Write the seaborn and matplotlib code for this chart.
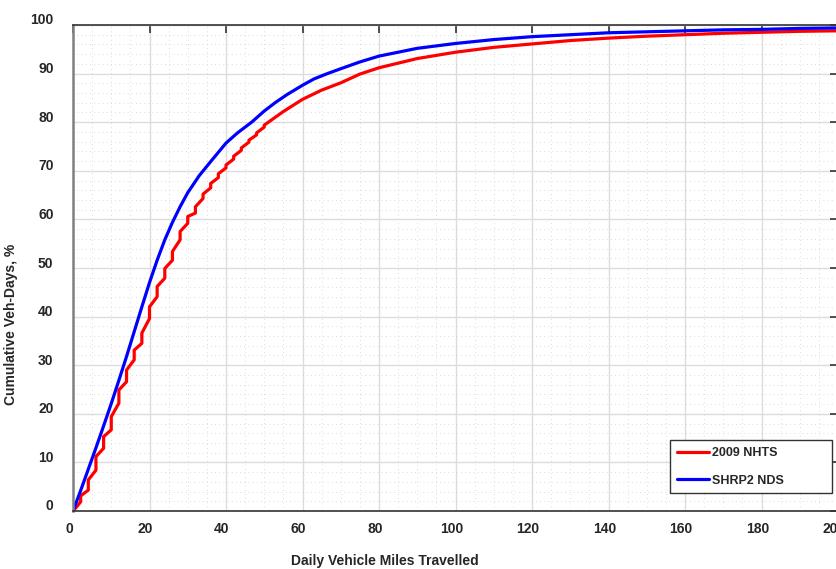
import matplotlib
matplotlib.use("Agg")
import matplotlib.pyplot as plt
import matplotlib.transforms as mtransforms
from matplotlib.ticker import MultipleLocator
import pandas as pd
import seaborn as sns

# ----------------------------
# Data
# ----------------------------
nhts_miles = [0, 1, 2, 2, 4, 4, 6, 6, 8, 8, 10, 10, 12, 12, 14, 14, 16, 16,
              18, 18, 20, 20, 22, 22, 24, 24, 26, 26, 28, 28, 30, 30, 32, 32,
              34, 34, 36, 36, 38, 38, 40, 40, 42, 42, 44, 44, 46, 46, 48, 48,
              50, 50, 55, 60, 65, 70, 75, 80, 90, 100, 110, 120, 130, 140,
              150, 160, 170, 180, 190, 200]
nhts_pct = [0, 0.9, 1.9, 3.1, 4.3, 6.4, 8.4, 11.2, 12.9, 15.3, 16.7, 19.4,
            22.2, 24.9, 26.6, 29.0, 31.1, 33.1, 34.5, 36.6, 39.6, 42.0, 44.1,
            46.2, 47.9, 49.9, 51.6, 53.4, 55.8, 57.5, 59.2, 60.6, 61.3, 62.6,
            64.3, 65.2, 66.5, 67.4, 68.6, 69.4, 70.6, 71.2, 72.4, 73.0, 74.2,
            74.7, 75.9, 76.3, 77.4, 77.8, 79.0, 79.4, 82.2, 84.7, 86.6, 88.1,
            89.9, 91.2, 93.1, 94.4, 95.4, 96.1, 96.8, 97.3, 97.7, 98.0, 98.3,
            98.5, 98.7, 98.8]

nds_miles = [0, 2, 4, 6, 8, 10, 12, 14, 16, 18, 20, 22, 24, 26, 28, 30, 33,
             36, 40, 43, 46.7, 50, 53, 56, 60, 63, 66.5, 70, 75, 80, 90, 100,
             110, 120, 130, 140, 150, 160, 170, 180, 190, 200]
nds_pct = [0, 4.2, 8.6, 13.0, 17.5, 22.1, 26.9, 31.8, 36.9, 42.0, 47.0, 51.6,
           55.8, 59.4, 62.6, 65.5, 69.0, 71.9, 75.7, 77.8, 80.0, 82.3, 84.1,
           85.7, 87.6, 88.9, 90.0, 91.0, 92.4, 93.6, 95.2, 96.2, 97.0, 97.6,
           98.0, 98.4, 98.6, 98.8, 99.0, 99.1, 99.3, 99.4]

LABELS = ["2009 NHTS", "SHRP2 NDS"]
COLORS = ["#ff0000", "#0000ff"]

df = pd.concat([
    pd.DataFrame({"miles": nhts_miles, "pct": nhts_pct, "src": LABELS[0]}),
    pd.DataFrame({"miles": nds_miles, "pct": nds_pct, "src": LABELS[1]}),
], ignore_index=True)

sns.set_theme(style="white")
plt.rcParams["font.family"] = ["Liberation Sans", "DejaVu Sans"]
plt.rcParams["font.weight"] = "bold"

fig = plt.figure(figsize=(8.36, 5.69), dpi=100)
ax = fig.add_axes([73 / 836, 58 / 569, 765 / 836, 486 / 569])

sns.lineplot(data=df, x="miles", y="pct", hue="src", palette=COLORS,
             estimator=None, sort=False, linewidth=2.3, ax=ax)

ax.set_xlim(0, 200)
ax.set_ylim(0, 100)
ax.xaxis.set_major_locator(MultipleLocator(20))
ax.xaxis.set_minor_locator(MultipleLocator(5))
ax.yaxis.set_major_locator(MultipleLocator(10))
ax.yaxis.set_minor_locator(MultipleLocator(2))

ax.grid(which="major", color="#dcdcdc", linewidth=1.0, linestyle="-")
ax.grid(which="minor", color="#d0d0d0", linewidth=0.6, linestyle=(0, (1, 4)))
ax.set_axisbelow(True)

ax.tick_params(which="major", direction="in", length=6, width=1.2,
               top=True, right=True, color="#333333", labelsize=10)
ax.tick_params(which="minor", length=0)
ax.tick_params(axis="y", pad=14)
ax.tick_params(axis="x", pad=8)

# small offsets of the tick labels as in the reference
up = mtransforms.ScaledTranslation(0, 0.06, fig.dpi_scale_trans)
left = mtransforms.ScaledTranslation(-0.04, 0, fig.dpi_scale_trans)
for tick in ax.yaxis.get_major_ticks():
    tick.label1.set_transform(tick.label1.get_transform() + up)
for tick in ax.xaxis.get_major_ticks():
    tick.label1.set_transform(tick.label1.get_transform() + left)
for lab in ax.get_xticklabels() + ax.get_yticklabels():
    lab.set_fontweight("bold")
    lab.set_color("#262626")

for side in ["top", "bottom", "right"]:
    ax.spines[side].set_color("#333333")
    ax.spines[side].set_linewidth(1.2)
ax.spines["left"].set_color("#808080")
ax.spines["left"].set_linewidth(1.8)

ax.set_xlabel("Daily Vehicle Miles Travelled", fontsize=10, fontweight="bold",
              color="#262626")
ax.xaxis.set_label_coords(0.408, -0.088)
ax.set_ylabel("Cumulative Veh-Days, %", fontsize=10, fontweight="bold",
              color="#262626")
ax.yaxis.set_label_coords(-0.072, 0.385)

leg = ax.legend(loc="upper left", bbox_to_anchor=(0.780, 0.03, 0.212, 0.116),
                mode="expand", borderaxespad=0, frameon=True, fancybox=False,
                framealpha=1, edgecolor="#333333", handlelength=2.6,
                handletextpad=0.25, borderpad=0.55, labelspacing=1.25,
                prop={"weight": "bold", "size": 9})
leg.get_frame().set_linewidth(1.0)

fig.savefig("out.png", dpi=100)
